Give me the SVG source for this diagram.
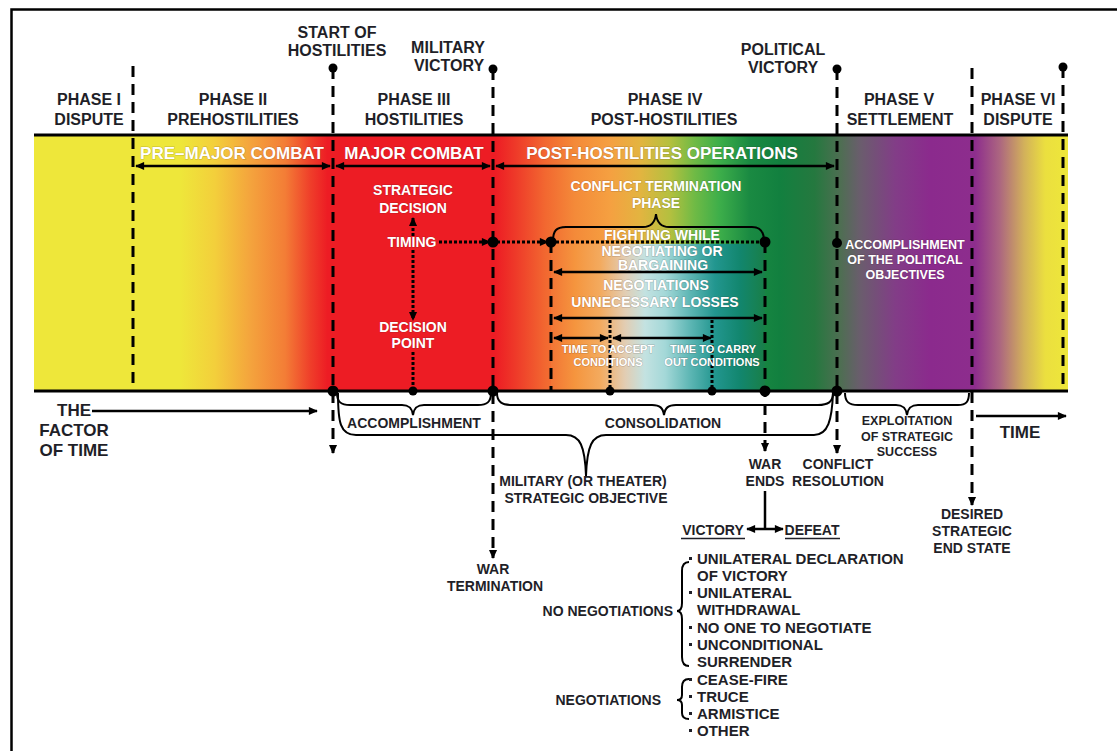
<svg xmlns="http://www.w3.org/2000/svg" width="1117" height="751" viewBox="0 0 1117 751">
<defs>
<linearGradient id="band" gradientUnits="userSpaceOnUse" x1="34" y1="0" x2="1068" y2="0">
<stop offset="0" stop-color="#EEE73A"/>
<stop offset="0.141" stop-color="#EEE73A"/>
<stop offset="0.175" stop-color="#F3CF3B"/>
<stop offset="0.209" stop-color="#F4A43D"/>
<stop offset="0.243" stop-color="#F37D36"/>
<stop offset="0.267" stop-color="#EF3F2A"/>
<stop offset="0.284" stop-color="#ED1C24"/>
<stop offset="0.446" stop-color="#ED1C24"/>
<stop offset="0.466" stop-color="#EE3A29"/>
<stop offset="0.494" stop-color="#F26730"/>
<stop offset="0.523" stop-color="#F48A39"/>
<stop offset="0.557" stop-color="#F5A041"/>
<stop offset="0.586" stop-color="#E3B440"/>
<stop offset="0.615" stop-color="#B4C03F"/>
<stop offset="0.639" stop-color="#6FBA45"/>
<stop offset="0.663" stop-color="#3DAE4A"/>
<stop offset="0.692" stop-color="#1A8A42"/>
<stop offset="0.721" stop-color="#12803F"/>
<stop offset="0.755" stop-color="#25783F"/>
<stop offset="0.780" stop-color="#4E6E52"/>
<stop offset="0.799" stop-color="#6A5D6D"/>
<stop offset="0.833" stop-color="#823D87"/>
<stop offset="0.867" stop-color="#8B2A8D"/>
<stop offset="0.910" stop-color="#8D2D8D"/>
<stop offset="0.934" stop-color="#AC6680"/>
<stop offset="0.958" stop-color="#D3B25A"/>
<stop offset="0.978" stop-color="#EBDF3F"/>
<stop offset="1" stop-color="#EEE73A"/>
</linearGradient>
<linearGradient id="inner" gradientUnits="userSpaceOnUse" x1="551" y1="0" x2="765" y2="0">
<stop offset="0" stop-color="#F37535"/>
<stop offset="0.112" stop-color="#F5953E"/>
<stop offset="0.229" stop-color="#F3AA5E"/>
<stop offset="0.346" stop-color="#E2CDB3"/>
<stop offset="0.439" stop-color="#C3E2E1"/>
<stop offset="0.533" stop-color="#A4D8D8"/>
<stop offset="0.650" stop-color="#5DB6B4"/>
<stop offset="0.766" stop-color="#22968F"/>
<stop offset="0.883" stop-color="#12866E"/>
<stop offset="1" stop-color="#197F48"/>
</linearGradient>
<marker id="ah" viewBox="0 0 10 10" refX="9" refY="5" markerWidth="10" markerHeight="9" markerUnits="userSpaceOnUse" orient="auto-start-reverse">
<path d="M0,0.5 L10,5 L0,9.5 z" fill="#000"/>
</marker>
<style>
.t{font-family:"Liberation Sans",Arial,sans-serif;font-weight:bold;fill:#1f1f28;text-anchor:middle}
.w{fill:#fff;stroke:#3a1a1a;stroke-opacity:0.25;stroke-width:1;paint-order:stroke}
.f17{font-size:17px}
.f16{font-size:16px}
.f14{font-size:14px}
.f15{font-size:15px}
.f125{font-size:12.5px}
.f11{font-size:11px}
.st{text-anchor:start}
.en{text-anchor:end}
.ln{fill:none;stroke:#000;stroke-width:2.5}
.dash{fill:none;stroke:#000;stroke-width:3;stroke-dasharray:11 7}
.dot{fill:none;stroke:#000;stroke-width:3;stroke-dasharray:3 2}
.br{fill:none;stroke:#000;stroke-width:2}
.arr{marker-end:url(#ah)}
.arr2{marker-start:url(#ah);marker-end:url(#ah)}
.bul{fill:#1f1f28}
</style>
</defs>
<rect width="1117" height="751" fill="#fff"/>
<path d="M11.5,751 L11.5,9.5 L1117,9.5" fill="none" stroke="#000" stroke-width="2.5"/>

<g id="band-area">
<rect x="34" y="135" width="1034" height="256" fill="url(#band)"/>
<rect x="551" y="244" width="214" height="147" fill="url(#inner)"/>
<line x1="34" y1="135" x2="1068" y2="135" stroke="#000" stroke-width="3"/>
<line x1="34" y1="391" x2="1068" y2="391" stroke="#000" stroke-width="3"/>
</g>

<g id="connectors">
<line class="dash" x1="133" y1="66" x2="133" y2="391"/>
<line class="dash arr" x1="333" y1="68" x2="333" y2="453"/>
<line class="dash arr" x1="493" y1="69" x2="493" y2="558"/>
<line class="dash" x1="551" y1="242" x2="551" y2="391"/>
<line class="dash arr" x1="765" y1="242" x2="765" y2="451"/>
<line class="dash arr" x1="837" y1="69" x2="837" y2="453"/>
<line class="dash arr" x1="972" y1="68" x2="972" y2="505"/>
<line class="dash" x1="1063" y1="67" x2="1063" y2="391"/>
<circle cx="333" cy="68" r="4.5"/>
<circle cx="493" cy="69" r="4.5"/>
<circle cx="837" cy="69" r="4.5"/>
<circle cx="1063" cy="67" r="4.5"/>
<line class="ln arr2" x1="136" y1="166" x2="330" y2="166"/>
<line class="ln arr2" x1="336" y1="166" x2="490" y2="166"/>
<line class="ln arr2" x1="496" y1="166" x2="834" y2="166"/>
<line class="dot arr" x1="413" y1="236" x2="413" y2="218"/>
<line class="dot arr" x1="413" y1="250" x2="413" y2="320"/>
<line class="dot" x1="413" y1="352" x2="413" y2="391"/>
<line class="dot arr" x1="439" y1="242" x2="490" y2="242"/>
<line class="dot arr" x1="497" y1="242" x2="548" y2="242"/>
<line class="dot" x1="551" y1="242" x2="765" y2="242"/>
<circle cx="493" cy="242" r="5.5"/>
<circle cx="551" cy="242" r="5.5"/>
<circle cx="765" cy="242" r="5.5"/>
<circle cx="837" cy="243" r="5"/>
<path class="br" d="M553,241 C553,231 556,227 566,227 L643,227 C651,227 655,223 656,214 C657,223 661,227 669,227 L752,227 C760,227 764,231 764,241"/>
<line class="ln arr2" x1="554" y1="272" x2="762" y2="272"/>
<line class="ln arr2" x1="554" y1="318" x2="762" y2="318"/>
<line class="ln arr2" x1="554" y1="338" x2="608" y2="338"/>
<line class="ln arr2" x1="613" y1="338" x2="711" y2="338"/>
<line class="dot" x1="610" y1="320" x2="610" y2="391"/>
<line class="dot" x1="712" y1="320" x2="712" y2="391"/>
<circle cx="333" cy="391" r="5.5"/>
<circle cx="413" cy="391" r="4.5"/>
<circle cx="493" cy="391" r="5.5"/>
<circle cx="610" cy="391" r="4.5"/>
<circle cx="712" cy="391" r="4.5"/>
<circle cx="765" cy="391" r="5.5"/>
<circle cx="837" cy="391" r="5.5"/>
<line class="ln arr" x1="92" y1="411" x2="317" y2="411"/>
<line class="ln arr" x1="976" y1="416" x2="1066" y2="416"/>
<path class="br" d="M337,393 C337,402 341,405 350,405 L402,405 C409,405 412,408 413,415 C414,408 417,405 424,405 L478,405 C487,405 491,402 491,393"/>
<path class="br" d="M497,393 C497,402 502,405 512,405 L652,405 C660,405 663,408 664,415 C665,408 668,405 676,405 L818,405 C828,405 833,402 833,393"/>
<path class="br" d="M845,393 C845,402 849,405 858,405 L896,405 C903,405 906,408 907,415 C908,408 911,405 918,405 L958,405 C966,405 969,402 969,393"/>
<path class="br" d="M338,393 C338,422 340,435 356,435 L566,435 C580,435 585,446 586,476 C587,446 592,435 606,435 L814,435 C828,435 832,420 833,393"/>
<line class="ln" x1="765" y1="491" x2="765" y2="529"/>
<line class="ln arr2" x1="747" y1="529" x2="783" y2="529"/>
<path class="br" d="M689,562 C684,562 682,565 682,571 L682,603 C682,608 681,611 677,611 C681,611 682,614 682,619 L682,657 C682,663 684,666 689,666"/>
<path class="br" d="M689,679 C684,679 682,682 682,687 L682,695 C682,698 681,700 677,700 C681,700 682,702 682,705 L682,713 C682,717 684,719 689,719"/>
</g>

<g id="phase-labels">
<text class="t f16" x="89" y="105">PHASE I</text>
<text class="t f16" x="89" y="125">DISPUTE</text>
<text class="t f16" x="233" y="105">PHASE II</text>
<text class="t f16" x="233" y="125">PREHOSTILITIES</text>
<text class="t f16" x="414" y="105">PHASE III</text>
<text class="t f16" x="414" y="125">HOSTILITIES</text>
<text class="t f16" x="665" y="105">PHASE IV</text>
<text class="t f16" x="664" y="125">POST-HOSTILITIES</text>
<text class="t f16" x="899" y="105">PHASE V</text>
<text class="t f16" x="900" y="125">SETTLEMENT</text>
<text class="t f16" x="1018" y="105">PHASE VI</text>
<text class="t f16" x="1018" y="125">DISPUTE</text>
</g>

<g id="milestones">
<text class="t f16" x="337" y="38">START OF</text>
<text class="t f16" x="337" y="56">HOSTILITIES</text>
<text class="t f16" x="448" y="53">MILITARY</text>
<text class="t f16" x="449" y="71">VICTORY</text>
<text class="t f16" x="783" y="55">POLITICAL</text>
<text class="t f16" x="783" y="73">VICTORY</text>
</g>

<g id="band-labels">
<text class="t w f17" x="232" y="159">PRE–MAJOR COMBAT</text>
<text class="t w f17" x="414" y="159">MAJOR COMBAT</text>
<text class="t w f17" x="662" y="159">POST-HOSTILITIES OPERATIONS</text>
</g>

<g id="strategic-decision">
<text class="t w f14" x="413" y="195">STRATEGIC</text>
<text class="t w f14" x="413" y="213">DECISION</text>
</g>
<g id="timing">
<text class="t w f14" x="412" y="247">TIMING</text>
</g>
<g id="decision-point">
<text class="t w f14" x="413" y="332">DECISION</text>
<text class="t w f14" x="413" y="348">POINT</text>
</g>

<g id="conflict-termination">
<text class="t w f14" x="656" y="191">CONFLICT TERMINATION</text>
<text class="t w f14" x="656" y="208">PHASE</text>
</g>
<g id="fighting">
<text class="t w f14" x="662" y="240">FIGHTING WHILE</text>
<text class="t w f14" x="662" y="256">NEGOTIATING OR</text>
<text class="t w f14" x="663" y="270">BARGAINING</text>
</g>
<g id="negotiations-losses">
<text class="t w f14" x="656" y="290">NEGOTIATIONS</text>
<text class="t w f14" x="655" y="307">UNNECESSARY LOSSES</text>
</g>
<g id="time-accept">
<text class="t w f11" x="608" y="353">TIME TO ACCEPT</text>
<text class="t w f11" x="608" y="366">CONDITIONS</text>
</g>
<g id="time-carry">
<text class="t w f11" x="713" y="353">TIME TO CARRY</text>
<text class="t w f11" x="712" y="366">OUT CONDITIONS</text>
</g>
<g id="political-objectives">
<text class="t w f125" x="905" y="249">ACCOMPLISHMENT</text>
<text class="t w f125" x="905" y="264">OF THE POLITICAL</text>
<text class="t w f125" x="905" y="279">OBJECTIVES</text>
</g>

<g id="factor-of-time">
<text class="t f17" x="74" y="416">THE</text>
<text class="t f17" x="74" y="436">FACTOR</text>
<text class="t f17" x="74" y="456">OF TIME</text>
</g>
<g id="time">
<text class="t f17" x="1020" y="438">TIME</text>
</g>
<g id="accomplishment">
<text class="t f14" x="414" y="428">ACCOMPLISHMENT</text>
</g>
<g id="consolidation">
<text class="t f14" x="663" y="428">CONSOLIDATION</text>
</g>
<g id="exploitation">
<text class="t f125" x="907" y="425">EXPLOITATION</text>
<text class="t f125" x="907" y="441">OF STRATEGIC</text>
<text class="t f125" x="907" y="456">SUCCESS</text>
</g>
<g id="military-objective">
<text class="t f14" x="583" y="486">MILITARY (OR THEATER)</text>
<text class="t f14" x="586" y="503">STRATEGIC OBJECTIVE</text>
</g>
<g id="war-ends">
<text class="t f14" x="765" y="469">WAR</text>
<text class="t f14" x="765" y="486">ENDS</text>
</g>
<g id="conflict-resolution">
<text class="t f14" x="838" y="469">CONFLICT</text>
<text class="t f14" x="838" y="486">RESOLUTION</text>
</g>
<g id="victory-defeat">
<text class="t f14" x="713" y="535">VICTORY</text>
<line x1="681" y1="538.5" x2="745" y2="538.5" stroke="#1f1f28" stroke-width="1.5"/>
<text class="t f14" x="812" y="535">DEFEAT</text>
<line x1="785" y1="538.5" x2="840" y2="538.5" stroke="#1f1f28" stroke-width="1.5"/>
</g>
<g id="desired-end-state">
<text class="t f14" x="972" y="519">DESIRED</text>
<text class="t f14" x="972" y="536">STRATEGIC</text>
<text class="t f14" x="972" y="553">END STATE</text>
</g>
<g id="war-termination">
<text class="t f14" x="493" y="574">WAR</text>
<text class="t f14" x="495" y="591">TERMINATION</text>
</g>
<g id="no-negotiations">
<text class="t f14 en" x="673" y="616">NO NEGOTIATIONS</text>
<rect class="bul" x="689" y="557" width="3" height="3"/>
<text class="t f15 st" x="697" y="564">UNILATERAL DECLARATION</text>
<text class="t f15 st" x="697" y="581">OF VICTORY</text>
<rect class="bul" x="689" y="591" width="3" height="3"/>
<text class="t f15 st" x="697" y="598">UNILATERAL</text>
<text class="t f15 st" x="697" y="615">WITHDRAWAL</text>
<rect class="bul" x="689" y="626" width="3" height="3"/>
<text class="t f15 st" x="697" y="633">NO ONE TO NEGOTIATE</text>
<rect class="bul" x="689" y="643" width="3" height="3"/>
<text class="t f15 st" x="697" y="650">UNCONDITIONAL</text>
<text class="t f15 st" x="697" y="667">SURRENDER</text>
</g>
<g id="negotiations">
<text class="t f14 en" x="661" y="705">NEGOTIATIONS</text>
<rect class="bul" x="689" y="678" width="3" height="3"/>
<text class="t f15 st" x="697" y="685">CEASE-FIRE</text>
<rect class="bul" x="689" y="695" width="3" height="3"/>
<text class="t f15 st" x="697" y="702">TRUCE</text>
<rect class="bul" x="689" y="712" width="3" height="3"/>
<text class="t f15 st" x="697" y="719">ARMISTICE</text>
<rect class="bul" x="689" y="729" width="3" height="3"/>
<text class="t f15 st" x="697" y="736">OTHER</text>
</g>
</svg>
